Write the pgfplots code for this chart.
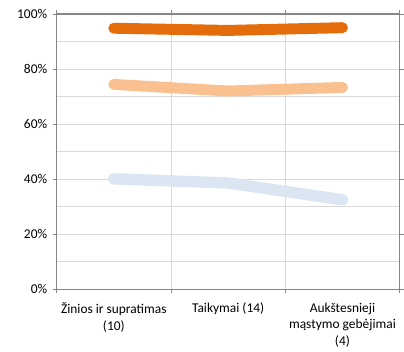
\documentclass[border=0pt]{standalone}
\usepackage{pgfplots}
\pgfplotsset{compat=1.18}
\usepackage{fontspec}
\setmainfont{Carlito}
\definecolor{dorange}{HTML}{E46C0A}
\definecolor{lorange}{HTML}{FAC090}
\definecolor{lblue}{HTML}{DCE6F2}
\definecolor{axgray}{HTML}{868686}
\definecolor{gridgray}{HTML}{D9D9D9}
\begin{document}
\begin{tikzpicture}
\begin{axis}[
  scale only axis,
  width=345pt, height=277pt,
  xmin=-0.5, xmax=2.5,
  ymin=0, ymax=100,
  clip=false,
  font=\fontsize{13.5}{17}\selectfont,
  /pgf/number format/assume math mode=true,
  xtick={0,1,2},
  xticklabels={{Žinios ir supratimas\\(10)},{Taikymai (14)},{Aukštesnieji\\mąstymo gebėjimai\\(4)}},
  xticklabel style={align=center, yshift=-6pt, font=\fontsize{13.5}{17}\selectfont},
  yticklabel style={xshift=-2pt, font=\fontsize{13.5}{17}\selectfont},
  major x tick style={draw=none},
  minor xtick={-0.5,0.5,1.5,2.5},
  xminorgrids,
  ytick={0,20,40,60,80,100},
  yticklabel={\pgfmathprintnumber{\tick}\%},
  minor ytick={10,30,50,70,90},
  yminorgrids, ymajorgrids,
  minor y tick style={draw=none},
  grid style={gridgray, line width=0.8pt},
  minor grid style={gridgray, line width=0.8pt},
  tick align=outside,
  major tick length=4pt,
  minor tick length=4pt,
  tick style={axgray, line width=0.8pt},
  axis line style={axgray, line width=1.3pt},
]
\addplot[lblue, line width=11.5pt, line cap=round, line join=round] coordinates {(0,40.1) (1,38.6) (2,32.5)};
\addplot[lorange, line width=11pt, line cap=round, line join=round] coordinates {(0,74.4) (1,72.0) (2,73.3)};
\addplot[dorange, line width=11pt, line cap=round, line join=round] coordinates {(0,94.8) (1,94.0) (2,95.0)};
\path (rel axis cs:-0.1652,-0.2166) rectangle (rel axis cs:1.0058,1.0505);
\end{axis}
\end{tikzpicture}
\end{document}
